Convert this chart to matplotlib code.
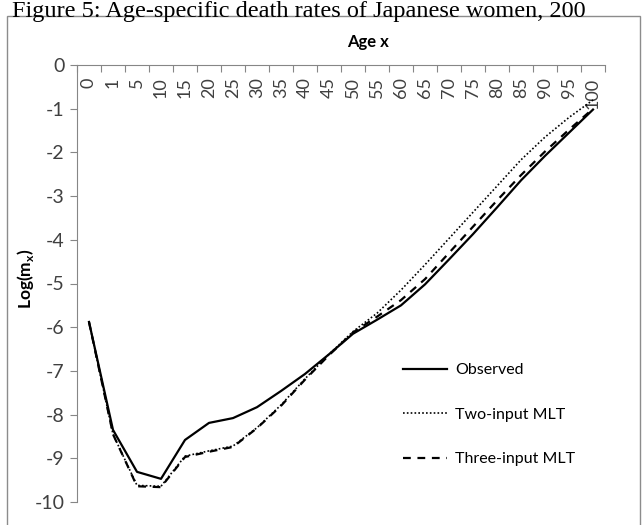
import matplotlib.pyplot as plt
from matplotlib.patches import Rectangle

ages = ['0', '1', '5', '10', '15', '20', '25', '30', '35', '40', '45', '50',
        '55', '60', '65', '70', '75', '80', '85', '90', '95', '100']
observed = [-5.88, -8.35, -9.31, -9.47, -8.58, -8.19, -8.08, -7.83, -7.46, -7.07, -6.62,
            -6.15, -5.83, -5.50, -5.02, -4.45, -3.87, -3.26, -2.64, -2.08, -1.55, -1.02]
two_input = [-5.88, -8.45, -9.62, -9.64, -8.95, -8.83, -8.72, -8.30, -7.78, -7.18, -6.62,
             -6.10, -5.68, -5.15, -4.57, -3.97, -3.37, -2.77, -2.17, -1.65, -1.20, -0.80]
three_input = [-5.88, -8.45, -9.64, -9.66, -8.97, -8.85, -8.74, -8.31, -7.80, -7.20, -6.64,
               -6.12, -5.76, -5.38, -4.90, -4.30, -3.70, -3.10, -2.52, -1.98, -1.48, -1.00]

plt.rcParams['font.family'] = ['Lato', 'DejaVu Sans']
plt.rcParams['axes.unicode_minus'] = False

W, H = 643, 525
fig = plt.figure(figsize=(W / 100, H / 100), dpi=100)

# outer chart border
fig.patches.append(Rectangle((7 / W, -0.05), (640 - 7) / W, 1.05 - 16 / H,
                             transform=fig.transFigure, fill=False,
                             ec='#8c8c8c', lw=1))

# document caption above the chart
fig.text(12 / W, 1 - 1 / H, 'Figure 5: Age-specific death rates of Japanese women, 200',
         family='Liberation Serif', fontsize=17.5, va='top', ha='left')

ax = fig.add_axes([77 / W, (H - 502) / H, (605 - 77) / W, (502 - 65) / H])
x = range(len(ages))
ax.plot(x, observed, color='black', lw=1.6, label='Observed')
ax.plot(x, two_input, color='black', lw=1.2, ls=(0, (1, 1.3)), label='Two-input MLT')
ax.plot(x, three_input, color='black', lw=1.6, ls=(0, (3.5, 3)), label='Three-input MLT')

ax.set_xlim(-0.5, len(ages) - 0.5)
ax.set_ylim(-10, 0)
ax.set_yticks(range(-10, 1))
for s in ['top', 'right']:
    ax.spines[s].set_visible(False)
ax.spines['bottom'].set_position(('data', 0))
for s in ['left', 'bottom']:
    ax.spines[s].set_color('#868686')

ax.set_xticks([i - 0.5 for i in range(len(ages) + 1)])
ax.set_xticklabels([])
ax.set_xticks(list(x), minor=True)
ax.set_xticklabels(ages, minor=True, rotation=90, fontsize=13, color='#404040')
ax.tick_params(axis='x', which='major', length=5, color='#868686')
ax.tick_params(axis='x', which='minor', length=0, pad=9)
ax.tick_params(axis='y', length=5, color='#868686', labelsize=14, labelcolor='#404040', pad=4)

fig.text(368 / W, 1 - 42 / H, 'Age x', ha='center', va='center', fontsize=12, fontweight='bold')
fig.text(25 / W, 1 - 279 / H, r'Log(m$_{\mathregular{x}}$)', rotation=90, ha='center',
         va='center', fontsize=12.5, fontweight='bold')

ax.legend(loc='upper left', bbox_to_anchor=(395 / W, 1 - 355 / H),
          bbox_transform=fig.transFigure, frameon=False, fontsize=11.5,
          handlelength=2.75, handletextpad=0.5, labelspacing=1.9, borderpad=0)

fig.savefig('out.png', dpi=100)
